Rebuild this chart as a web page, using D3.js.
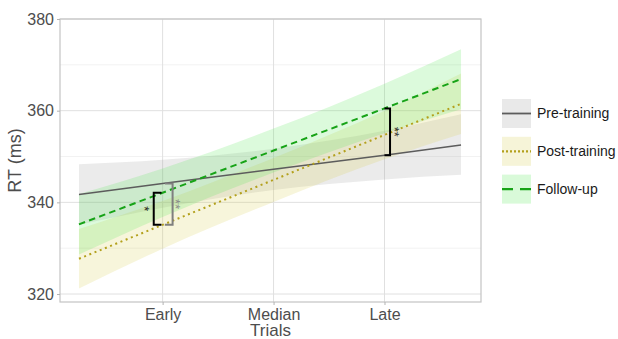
<!DOCTYPE html>
<html>
<head>
<meta charset="utf-8">
<script src="https://cdn.jsdelivr.net/npm/d3@7/dist/d3.min.js"></script>
<style>
  html, body { margin: 0; padding: 0; background: #fff; }
  svg { display: block; font-family: "Liberation Sans", Arial, sans-serif; }
</style>
</head>
<body>
<svg id="chart" width="618" height="339"></svg>
<script>
// Trial phase positions and labels
const trialTicks = [1, 2, 3];
const trialLabels = ["Early", "Median", "Late"];
const yTicks = [320, 340, 360, 380];
const yMinor = [330, 350, 370];

// Positions along the trial axis where the fitted values are given
const xPoints = [0.246, 1, 2, 3, 3.69];

// Fitted RT and confidence band, per session
const preFit  = [341.7, 344.1, 347.2, 350.3, 352.5];
const preLow  = [335.1, 338.8, 342.7, 345.0, 346.0];
const preHigh = [348.3, 349.3, 351.7, 355.6, 359.2];

const postFit  = [327.7, 335.1, 344.9, 354.7, 361.5];
const postLow  = [321.2, 329.9, 340.1, 349.4, 354.9];
const postHigh = [334.2, 340.3, 349.7, 360.0, 368.1];

const followFit  = [335.2, 342.1, 351.3, 360.5, 366.9];
const followLow  = [328.6, 336.8, 346.5, 355.1, 360.3];
const followHigh = [341.8, 347.4, 356.1, 365.9, 373.4];

const sessionNames = ["Pre-training", "Post-training", "Follow-up"];

// Significance brackets: position, low/high RT, colour, star label
const bracketX    = [0.92, 1.09, 3.05];
const bracketArmX = [0.99, 1.02, 3.0];
const bracketLow  = [335.1, 335.1, 350.3];
const bracketHigh = [342.1, 344.1, 360.5];
const bracketStars = ["*", "**", "**"];

const styles = [
  { line: "#5c5c5c", fill: "#9a9a9a", dash: null, width: 1.5, keyDash: null },
  { line: "#b3a01c", fill: "#d6cb4c", dash: "2,3.6", width: 2, keyDash: "2,2" },
  { line: "#17a317", fill: "#50e850", dash: "6.5,4.3", width: 2, keyDash: "11,7" }
];
const bracketColors = ["#000", "#7f7f7f", "#000"];
const starColors = ["#222", "#8a8a8a", "#333"];
const starOffsets = [-5.5, 5.8, 7.5];

const svg = d3.select("#chart");
const x = d3.scaleLinear().domain([0.075, 3.87]).range([60, 481]);
const y = d3.scaleLinear().domain([318.26, 380]).range([302, 19]);

const grid = svg.append("g");
grid.selectAll(".ymin").data(yMinor).join("line")
  .attr("x1", x.range()[0]).attr("x2", x.range()[1])
  .attr("y1", d => y(d)).attr("y2", d => y(d))
  .attr("stroke", "#efefef").attr("stroke-width", 0.8);
grid.selectAll(".ymaj").data(yTicks).join("line")
  .attr("x1", x.range()[0]).attr("x2", x.range()[1])
  .attr("y1", d => y(d)).attr("y2", d => y(d))
  .attr("stroke", "#e0e0e0").attr("stroke-width", 1);
grid.selectAll(".xmaj").data(trialTicks).join("line")
  .attr("y1", y.range()[0]).attr("y2", y.range()[1])
  .attr("x1", d => x(d)).attr("x2", d => x(d))
  .attr("stroke", "#e0e0e0").attr("stroke-width", 1);

const series = [
  { fit: preFit, low: preLow, high: preHigh },
  { fit: postFit, low: postLow, high: postHigh },
  { fit: followFit, low: followLow, high: followHigh }
];

const area = d3.area()
  .x((d, i) => x(xPoints[i]))
  .y0(d => y(d[0])).y1(d => y(d[1]))
  .curve(d3.curveMonotoneX);
const line = d3.line()
  .x((d, i) => x(xPoints[i])).y(d => y(d));

series.forEach((s, k) => {
  svg.append("path")
    .datum(s.low.map((v, i) => [v, s.high[i]]))
    .attr("d", area)
    .attr("fill", styles[k].fill).attr("fill-opacity", 0.2);
});
series.forEach((s, k) => {
  svg.append("path")
    .datum(s.fit)
    .attr("d", line)
    .attr("fill", "none")
    .attr("stroke", styles[k].line)
    .attr("stroke-width", styles[k].width)
    .attr("stroke-dasharray", styles[k].dash);
});

// Significance brackets
bracketX.forEach((bx, i) => {
  const p = d3.path();
  p.moveTo(x(bracketArmX[i]), y(bracketHigh[i]));
  p.lineTo(x(bx), y(bracketHigh[i]));
  p.lineTo(x(bx), y(bracketLow[i]));
  p.lineTo(x(bracketArmX[i]), y(bracketLow[i]));
  svg.append("path").attr("d", p.toString())
    .attr("fill", "none").attr("stroke", bracketColors[i]).attr("stroke-width", 2);
  const cx = x(bx) + starOffsets[i];
  const cy = (y(bracketHigh[i]) + y(bracketLow[i])) / 2;
  svg.append("text")
    .attr("transform", `translate(${cx},${cy}) rotate(90)`)
    .attr("text-anchor", "middle").attr("dy", "0.6em")
    .attr("font-size", 13).attr("fill", starColors[i])
    .text(bracketStars[i]);
});

// Panel border
svg.append("rect")
  .attr("x", x.range()[0]).attr("y", y.range()[1])
  .attr("width", x.range()[1] - x.range()[0])
  .attr("height", y.range()[0] - y.range()[1])
  .attr("fill", "none").attr("stroke", "#c4c4c4").attr("stroke-width", 1.2);

// Axes
const yAxis = svg.append("g").attr("transform", `translate(${x.range()[0]},0)`)
  .call(d3.axisLeft(y).tickValues(yTicks).tickSize(3).tickPadding(3));
const xAxis = svg.append("g").attr("transform", `translate(0,${y.range()[0]})`)
  .call(d3.axisBottom(x).tickValues(trialTicks).tickSize(3).tickPadding(4)
    .tickFormat((d, i) => trialLabels[i]));
[yAxis, xAxis].forEach(g => {
  g.select(".domain").remove();
  g.selectAll(".tick line").attr("stroke", "#b3b3b3");
  g.selectAll(".tick text").attr("fill", "#4d4d4d").attr("font-size", 16)
    .attr("font-family", "Liberation Sans, Arial, sans-serif");
});

svg.append("text")
  .attr("x", (x.range()[0] + x.range()[1]) / 2).attr("y", 336)
  .attr("text-anchor", "middle").attr("font-size", 17).attr("fill", "#4d4d4d")
  .text("Trials");
svg.append("text")
  .attr("transform", `translate(21,${(y.range()[0] + y.range()[1]) / 2}) rotate(-90)`)
  .attr("text-anchor", "middle").attr("font-size", 18).attr("fill", "#4d4d4d")
  .text("RT (ms)");

// Legend
const legend = svg.append("g").attr("transform", "translate(502,99)");
sessionNames.forEach((name, i) => {
  const g = legend.append("g").attr("transform", `translate(0,${i * 37.8})`);
  g.append("rect").attr("width", 29).attr("height", 29).attr("fill", "#fff");
  g.append("rect").attr("width", 29).attr("height", 29)
    .attr("fill", styles[i].fill).attr("fill-opacity", 0.22);
  g.append("line").attr("x1", 0).attr("x2", 29).attr("y1", 14.5).attr("y2", 14.5)
    .attr("stroke", styles[i].line).attr("stroke-width", styles[i].width + 0.3)
    .attr("stroke-dasharray", styles[i].keyDash);
  g.append("text").attr("x", 35).attr("y", 14.5).attr("dy", "0.35em")
    .attr("font-size", 14).attr("fill", "#1a1a1a").text(name);
});
</script>
</body>
</html>
